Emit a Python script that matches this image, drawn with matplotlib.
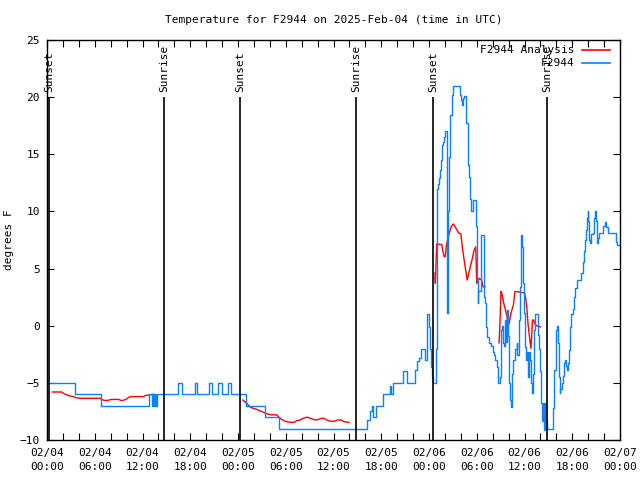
import numpy as np
import pandas as pd
import matplotlib
matplotlib.use('Agg')
import matplotlib.pyplot as plt
import matplotlib.dates as mdates

# hours after 2025-02-04 00:00 UTC
start = pd.Timestamp('2025-02-04 00:00')

# station observations (value holds until next time)
obs_hours = [0.0, 3.55, 6.75, 12.8, 13.2, 13.3, 13.45, 13.55, 13.7, 13.8,
             16.4, 17.0, 18.6, 18.9, 20.4, 20.7, 21.45, 22.0, 22.8, 23.1,
             25.0, 27.35, 29.15,
             40.25, 40.6, 40.8, 41.0, 41.4, 42.2, 43.1, 43.2, 43.45, 44.7,
             45.2, 46.2, 46.45, 46.75, 47.0, 47.45, 47.7, 47.8, 48.05, 48.15,
             48.3, 48.4, 48.5, 48.85, 48.97, 49.1, 49.26, 49.4, 49.5, 49.6,
             49.68, 49.8, 49.93, 50.0, 50.2, 50.35, 50.45, 50.56, 50.68, 50.85,
             50.95, 51.05, 51.9, 52.05, 52.2, 52.3, 52.45, 52.6, 52.7, 52.85,
             52.95, 53.05, 53.15, 53.25, 53.57, 53.87, 54.0, 54.1, 54.2, 54.5,
             54.85, 55.0, 55.1, 55.25, 55.6, 55.85, 56.0, 56.2, 56.35, 56.5,
             56.65, 56.9, 57.0, 57.15, 57.3, 57.45, 57.55, 57.65, 57.75, 57.9,
             58.0, 58.15, 58.3, 58.45, 58.6, 58.75, 59.0, 59.1, 59.3, 59.45,
             59.55, 59.68, 59.75, 59.85, 59.95, 60.1, 60.25, 60.35, 60.45, 60.6,
             60.7, 60.85, 60.98, 61.1, 61.25, 61.35, 61.7, 61.85, 61.95, 62.1,
             62.25, 62.35, 62.5, 62.62, 62.75, 62.85, 63.62, 63.75, 63.92, 64.02,
             64.1, 64.2, 64.32, 64.42, 64.52, 64.65, 64.85, 64.98, 65.1, 65.22,
             65.35, 65.48, 65.6, 65.75, 65.9, 66.1, 66.25, 66.4, 66.55, 67.15,
             67.3, 67.45, 67.55, 67.68, 67.8, 67.92, 68.02, 68.12, 68.22, 68.32,
             68.55, 68.68, 68.82, 68.95, 69.05, 69.2, 69.35, 69.85, 70.1, 70.3,
             70.45, 71.45, 71.6, 72.0]
obs_temps = [-5, -6, -7, -6, -7, -6, -7, -6, -7, -6,
             -5, -6, -5, -6, -5, -6, -5, -6, -5, -6,
             -7, -8, -9,
             -8.25, -7.5, -7.0, -8.0, -7.0, -6.0, -5.3, -6.0, -5.0, -4.0,
             -5.0, -3.9, -3.1, -2.8, -2.0, -3.0, -0.1, 1.0, -0.1, -2.0,
             -3.6, -4.5, -5.0, -2.0, 12.0, 12.4, 12.9, 13.6, 14.5, 15.2,
             15.8, 16.1, 16.5, 17.0, 1.1, 4.0, 10.0, 14.8, 18.4, 19.75,
             20.2, 21.0, 20.2, 19.75, 19.3, 19.9, 20.1, 19.0, 17.7, 15.1,
             14.1, 13.0, 11.1, 10.0, 11.0, 8.7, 4.0, 1.95, 3.0, 7.9,
             2.5, 2.0, -0.1, -1.0, -1.5, -1.8, -2.3, -2.6, -3.0, -3.6,
             -5.0, -4.5, -0.4, 0.0, -1.5, -1.8, 0.5, -1.4, 1.4, -0.9,
             -5.0, -6.5, -7.1, -4.2, -3.0, -2.0, -1.5, -2.6, 0.5, 3.4,
             7.9, 6.9, 5.2, 3.7, 1.1, -1.9, -3.0, -2.3, -4.5, -2.3,
             -3.0, -5.0, -5.9, -4.2, -0.4, 1.0, -0.8, -2.0, -4.0, -6.8,
             -8.3, -6.8, -9.1, -6.8, -8.3, -9.0, -7.2, -3.9, -1.5, -0.4,
             0.0, -1.5, -4.45, -5.9, -5.5, -5.0, -4.4, -3.3, -3.0, -3.5,
             -3.9, -3.3, -2.1, -0.1, 1.0, 1.5, 2.5, 3.3, 4.0, 4.6,
             5.6, 6.5, 7.5, 8.4, 9.4, 10.0, 9.2, 7.5, 7.2, 8.0,
             8.1, 9.4, 10.0, 9.2, 7.2, 7.7, 8.1, 8.7, 9.05, 8.6,
             8.1, 7.35, 7.1, 7.1]

# analysis (nan = no data)
ana_hours = [0.67, 1.85, 2.15, 2.5, 2.9, 3.3, 3.7, 4.15, 6.66, 7.0, 7.5, 8.1,
             8.96, 9.4, 9.93, 10.2, 10.5, 12.1, 12.4, 12.94, 13.36, 13.5,
             24.6, 25.1, 25.35, 25.6, 26.0, 26.26, 26.6, 26.98, 27.3, 27.6,
             28.2, 28.86, 29.15, 29.5, 29.9, 30.5, 31.08, 31.4, 31.8, 32.2,
             32.7, 33.1, 33.68, 34.1, 34.5, 34.8, 35.15, 35.56, 36.2, 36.5,
             37.0, 37.3, 37.95, 38.1,
             48.75, 48.8, 48.97, 49.6, 49.75, 49.9, 50.05, 50.2, 50.4, 50.55,
             50.8, 51.06, 51.25, 51.5, 51.75, 52.0, 52.15, 52.3, 52.45, 52.6,
             52.8, 53.0, 53.2, 53.45, 53.66, 53.87, 54.0, 54.3, 54.6, 54.8,
             55.04, 55.2,
             56.8, 56.9, 57.05, 57.2, 57.4, 57.6, 57.8, 57.97, 58.1, 58.3,
             58.6, 58.7, 58.8, 59.4, 60.0, 60.15, 60.3, 60.45, 60.6, 60.8,
             60.9, 61.0, 61.15, 61.3, 61.5, 62.0]
ana_temps = [-5.8, -5.8, -5.95, -6.05, -6.15, -6.2, -6.3, -6.35, -6.35, -6.5, -6.55, -6.45,
             -6.45, -6.55, -6.45, -6.3, -6.2, -6.2, -6.1, -6.05, -6.0, np.nan,
             -6.5, -6.8, -7.0, -7.15, -7.25, -7.3, -7.4, -7.5, -7.6, -7.7,
             -7.8, -7.8, -8.0, -8.2, -8.35, -8.45, -8.45, -8.3, -8.25, -8.1,
             -8.0, -8.1, -8.25, -8.2, -8.1, -8.1, -8.25, -8.35, -8.35, -8.25,
             -8.25, -8.4, -8.45, np.nan,
             4.6, 3.7, 7.15, 7.1, 6.5, 6.05, 6.05, 7.1, 7.65, 8.1,
             8.7, 8.9, 8.7, 8.4, 8.1, 8.05, 7.1, 6.3, 5.6, 4.9,
             4.0, 4.6, 5.2, 5.9, 6.6, 6.9, 3.7, 4.15, 4.0, 3.4,
             3.4, np.nan,
             -1.5, -0.1, 3.0, 2.7, 1.95, 1.4, 0.8, 0.07, 0.3, 1.1,
             1.8, 2.4, 3.0, 2.95, 2.85, 2.4, 1.5, 0.1, -0.8, -2.0,
             -1.0, 0.5, 0.5, 0.2, 0.0, -0.1]

sun_hours = [0.25, 14.7, 24.25, 38.83, 48.5, 62.83]
sun_labels = ['Sunset', 'Sunrise', 'Sunset', 'Sunrise', 'Sunset', 'Sunrise']

obs_t = start + pd.to_timedelta(obs_hours, unit='h')
ana_t = start + pd.to_timedelta(ana_hours, unit='h')
sun_t = start + pd.to_timedelta(sun_hours, unit='h')

mono = 'DejaVu Sans Mono'
fs = 8
plt.rcParams['font.family'] = mono
plt.rcParams['font.size'] = fs

fig = plt.figure(figsize=(6.4, 4.8), dpi=100)
ax = fig.add_axes([47 / 640, 40 / 480, 573 / 640, 400 / 480])

ax.plot(ana_t, ana_temps, color='#ff0000', lw=1.0)
ax.plot(obs_t, obs_temps, color='#0a80ff', lw=1.0, drawstyle='steps-post')

for t, lab in zip(sun_t, sun_labels):
    ax.vlines(t, -10, 20, color='black', lw=1.2)
    ax.text(t, 20.45, lab, rotation=90, ha='center', va='bottom', fontsize=fs)

ax.set_xlim(start, start + pd.Timedelta(hours=72))
ax.set_ylim(-10, 25)
ax.set_yticks(range(-10, 26, 5))

ax.xaxis.set_major_locator(mdates.HourLocator(byhour=range(0, 24, 6)))
ax.xaxis.set_major_formatter(mdates.DateFormatter('%m/%d\n%H:%M'))
ax.xaxis.set_minor_locator(mdates.HourLocator(byhour=range(0, 24, 2)))
ax.tick_params(which='both', direction='in', top=True, right=True, length=5, width=0.8)
ax.tick_params(axis='x', pad=6)
ax.tick_params(axis='y', pad=5)
for lab in ax.get_xticklabels():
    lab.set_linespacing(1.45)
for s in ax.spines.values():
    s.set_linewidth(1.0)

ax.set_ylabel('degrees F', fontsize=fs, labelpad=4)
ax.set_title('Temperature for F2944 on 2025-Feb-04 (time in UTC)', fontsize=fs, pad=12)

# legend drawn by hand, labels right aligned as in gnuplot
leg = [('F2944 Analysis', '#ff0000', 0.975), ('F2944', '#0a80ff', 0.9435)]
for name, col, y in leg:
    ax.text(0.921, y, name, transform=ax.transAxes, ha='right', va='center', fontsize=fs)
    ax.plot([0.933, 0.982], [y, y], color=col, lw=1.2, transform=ax.transAxes)

fig.savefig('out.png', dpi=100)
